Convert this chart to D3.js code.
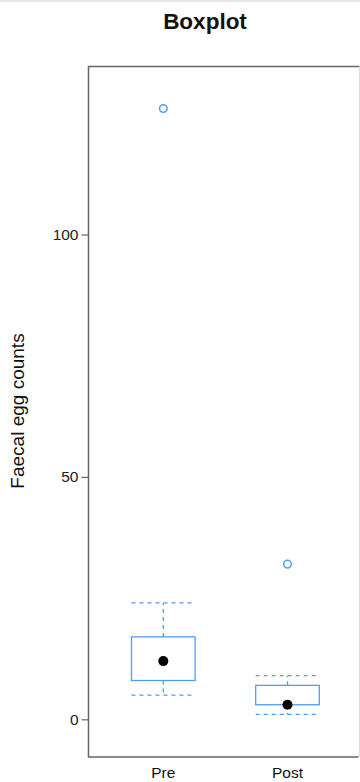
<!DOCTYPE html>
<html><head><meta charset="utf-8">
<script src="https://cdn.jsdelivr.net/npm/d3@7"></script>
<style>html,body{margin:0;padding:0;background:#fff;}svg{display:block;font-family:Arial,"Liberation Sans",sans-serif;}</style>
</head><body>
<svg id="c" width="360" height="782"></svg>
<script>
const groups = ["Pre", "Post"];
const whiskerLow = [5, 1];
const q1 = [8, 3];
const median = [12, 3];
const q3 = [17, 7];
const whiskerHigh = [24, 9];
const outliers = [[126], [32]];
const yTicks = [0, 50, 100];

const svg = d3.select("#c");
const L = 88.5, R = 359.5, T = 66.5, B = 757;
const blue = "#4d9dff";

svg.append("line").attr("x1",0).attr("x2",360).attr("y1",1).attr("y2",1).attr("stroke","#e6e6e6").attr("stroke-width",2);

const y = d3.scaleLinear().domain([0, 100]).range([719.3, 234.5]);
const x = d3.scalePoint().domain(groups).range([163.3, 287.5]);
const halfW = 31.8;

// frame
svg.append("path").attr("d",`M${R},${T}H${L}V${B}H${R-1}`).attr("fill","none").attr("stroke","#666").attr("stroke-width",1.5);
svg.append("line").attr("x1",R).attr("x2",R).attr("y1",T).attr("y2",B).attr("stroke","#ddd").attr("stroke-width",1);

// y axis
const yAxis = d3.axisLeft(y).tickValues(yTicks).tickSize(7).tickPadding(3).tickFormat(d3.format("d"));
const ga = svg.append("g").attr("transform",`translate(${L},0)`).call(yAxis);
ga.select(".domain").remove();
ga.selectAll(".tick line").attr("stroke","#666").attr("stroke-width",1.2);
ga.selectAll(".tick text").attr("font-size",15.5).attr("fill","#222").attr("font-family","Arial, 'Liberation Sans', sans-serif");

// x labels
svg.selectAll(".xl").data(groups).join("text").attr("class","xl")
  .attr("x",d=>x(d)).attr("y",778).attr("text-anchor","middle").attr("font-size",15.5).attr("fill","#111").text(d=>d);

// title
svg.append("text").attr("x",205).attr("y",29).attr("text-anchor","middle").attr("font-size",22.5).attr("font-weight","bold").attr("fill","#111").text("Boxplot");

// y label
svg.append("text").attr("transform","translate(24,411) rotate(-90)").attr("text-anchor","middle").attr("font-size",19).attr("fill","#111").text("Faecal egg counts");

// boxes
groups.forEach((g,i)=>{
  const cx = x(g);
  const gg = svg.append("g");
  const dash = "4,4";
  gg.append("line").attr("x1",cx).attr("x2",cx).attr("y1",y(q3[i])).attr("y2",y(whiskerHigh[i])).attr("stroke",blue).attr("stroke-width",1.3).attr("stroke-dasharray",dash);
  gg.append("line").attr("x1",cx).attr("x2",cx).attr("y1",y(q1[i])).attr("y2",y(whiskerLow[i])).attr("stroke",blue).attr("stroke-width",1.3).attr("stroke-dasharray",dash);
  [whiskerHigh[i], whiskerLow[i]].forEach(v=>{
    gg.append("line").attr("x1",cx-halfW).attr("x2",cx+halfW).attr("y1",y(v)).attr("y2",y(v)).attr("stroke",blue).attr("stroke-width",1.3).attr("stroke-dasharray",dash);
  });
  gg.append("rect").attr("x",cx-halfW).attr("width",2*halfW).attr("y",y(q3[i])).attr("height",y(q1[i])-y(q3[i])).attr("fill","none").attr("stroke",blue).attr("stroke-width",1.3);
  gg.append("circle").attr("cx",cx).attr("cy",y(median[i])).attr("r",5).attr("fill","#000");
  outliers[i].forEach(v=>{
    gg.append("circle").attr("cx",cx).attr("cy",y(v)).attr("r",3.8).attr("fill","none").attr("stroke",blue).attr("stroke-width",1.5);
  });
});
</script>
</body></html>
